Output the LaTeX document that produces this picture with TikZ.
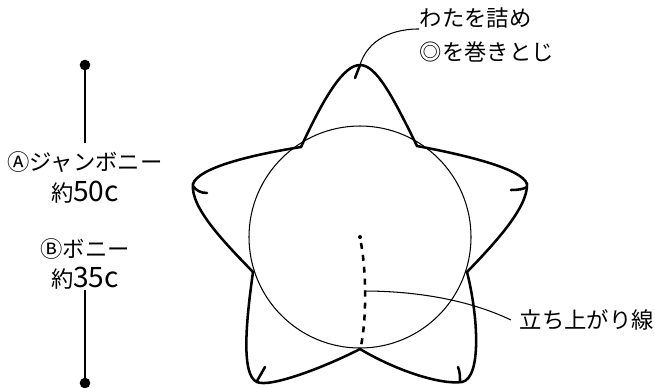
\documentclass[tikz,border=0pt]{standalone}
\usepackage{fontspec}
\setmainfont{Noto Sans CJK JP}
\newcommand{\bigdigits}[1]{{\fontsize{8}{8}\selectfont #1}}
\begin{document}
\begin{tikzpicture}[x=0.01cm,y=-0.01cm,
  outline/.style={line width=0.72pt, line cap=round},
  leader/.style={line width=0.3pt},
  label/.style={inner sep=0pt, align=center, font=\fontsize{6.35}{8}\selectfont}]
\useasboundingbox (0,0) rectangle (655,387);
\draw[leader] (360,237) circle (111);
% star outline
\draw[outline] (360,65) .. controls (376,65) and (392,95) .. (417,146)
  .. controls (460,154) and (522,168) .. (527,184)
  .. controls (528,208) and (493,245) .. (467,272)
  .. controls (478,315) and (482,378) .. (462,382)
  .. controls (440,385) and (395,370) .. (360,349)
  .. controls (325,367) and (270,388) .. (257,382)
  .. controls (240,375) and (247,315) .. (253,272)
  .. controls (227,245) and (190,208) .. (193,184)
  .. controls (198,168) and (250,155) .. (301,147)
  .. controls (325,95) and (344,65) .. (360,65);
% tips
\draw[outline] (355,78) -- (360,65);
\draw[outline] (193,186) .. controls (196,190) and (200,193) .. (207,193);
\draw[outline] (511,190) .. controls (518,190) and (524,189) .. (527,187);
\draw[outline] (265,367) -- (257,381);
\draw[outline] (458,367) .. controls (460,372) and (460,377) .. (460,381);
% rising line
\fill (360,237) circle (2);
\draw[outline, dash pattern=on 1.7pt off 1.7pt, line cap=butt] (361,243) .. controls (366,270) and (367,315) .. (361,346);
\coordinate (riseP) at (364,291);
\coordinate (tipP) at (360,65);
% labels
\node[label, anchor=west] (wata) at (419,18) {わたを詰め};
\node[label, anchor=west] (maki) at (419,52) {◎を巻きとじ};
\node[label, anchor=west, inner xsep=2.3pt] (rise) at (511,320) {立ち上がり線};
\draw[leader] (tipP) .. controls (366,45) and (385,29) .. (wata.south west);
\draw[leader] (riseP) .. controls (410,291) and (465,298) .. (rise.west);
% lengths
\node[label, inner ysep=2.3pt] (jumbo) at (85,162) {Ⓐジャンボニー};
\node[label] (fifty) at (85,192) {約\bigdigits{50c}};
\node[label] (pony) at (85,249) {Ⓑボニー};
\node[label] (thirtyfive) at (85,278) {約\bigdigits{35c}};
\coordinate (topP) at (85,65);
\coordinate (botP) at (85,383);
\fill (topP) circle (5.3);
\fill (botP) circle (5.3);
\draw[leader] (topP) -- (jumbo.north);
\draw[leader] (thirtyfive.south) -- (botP);
\end{tikzpicture}
\end{document}
